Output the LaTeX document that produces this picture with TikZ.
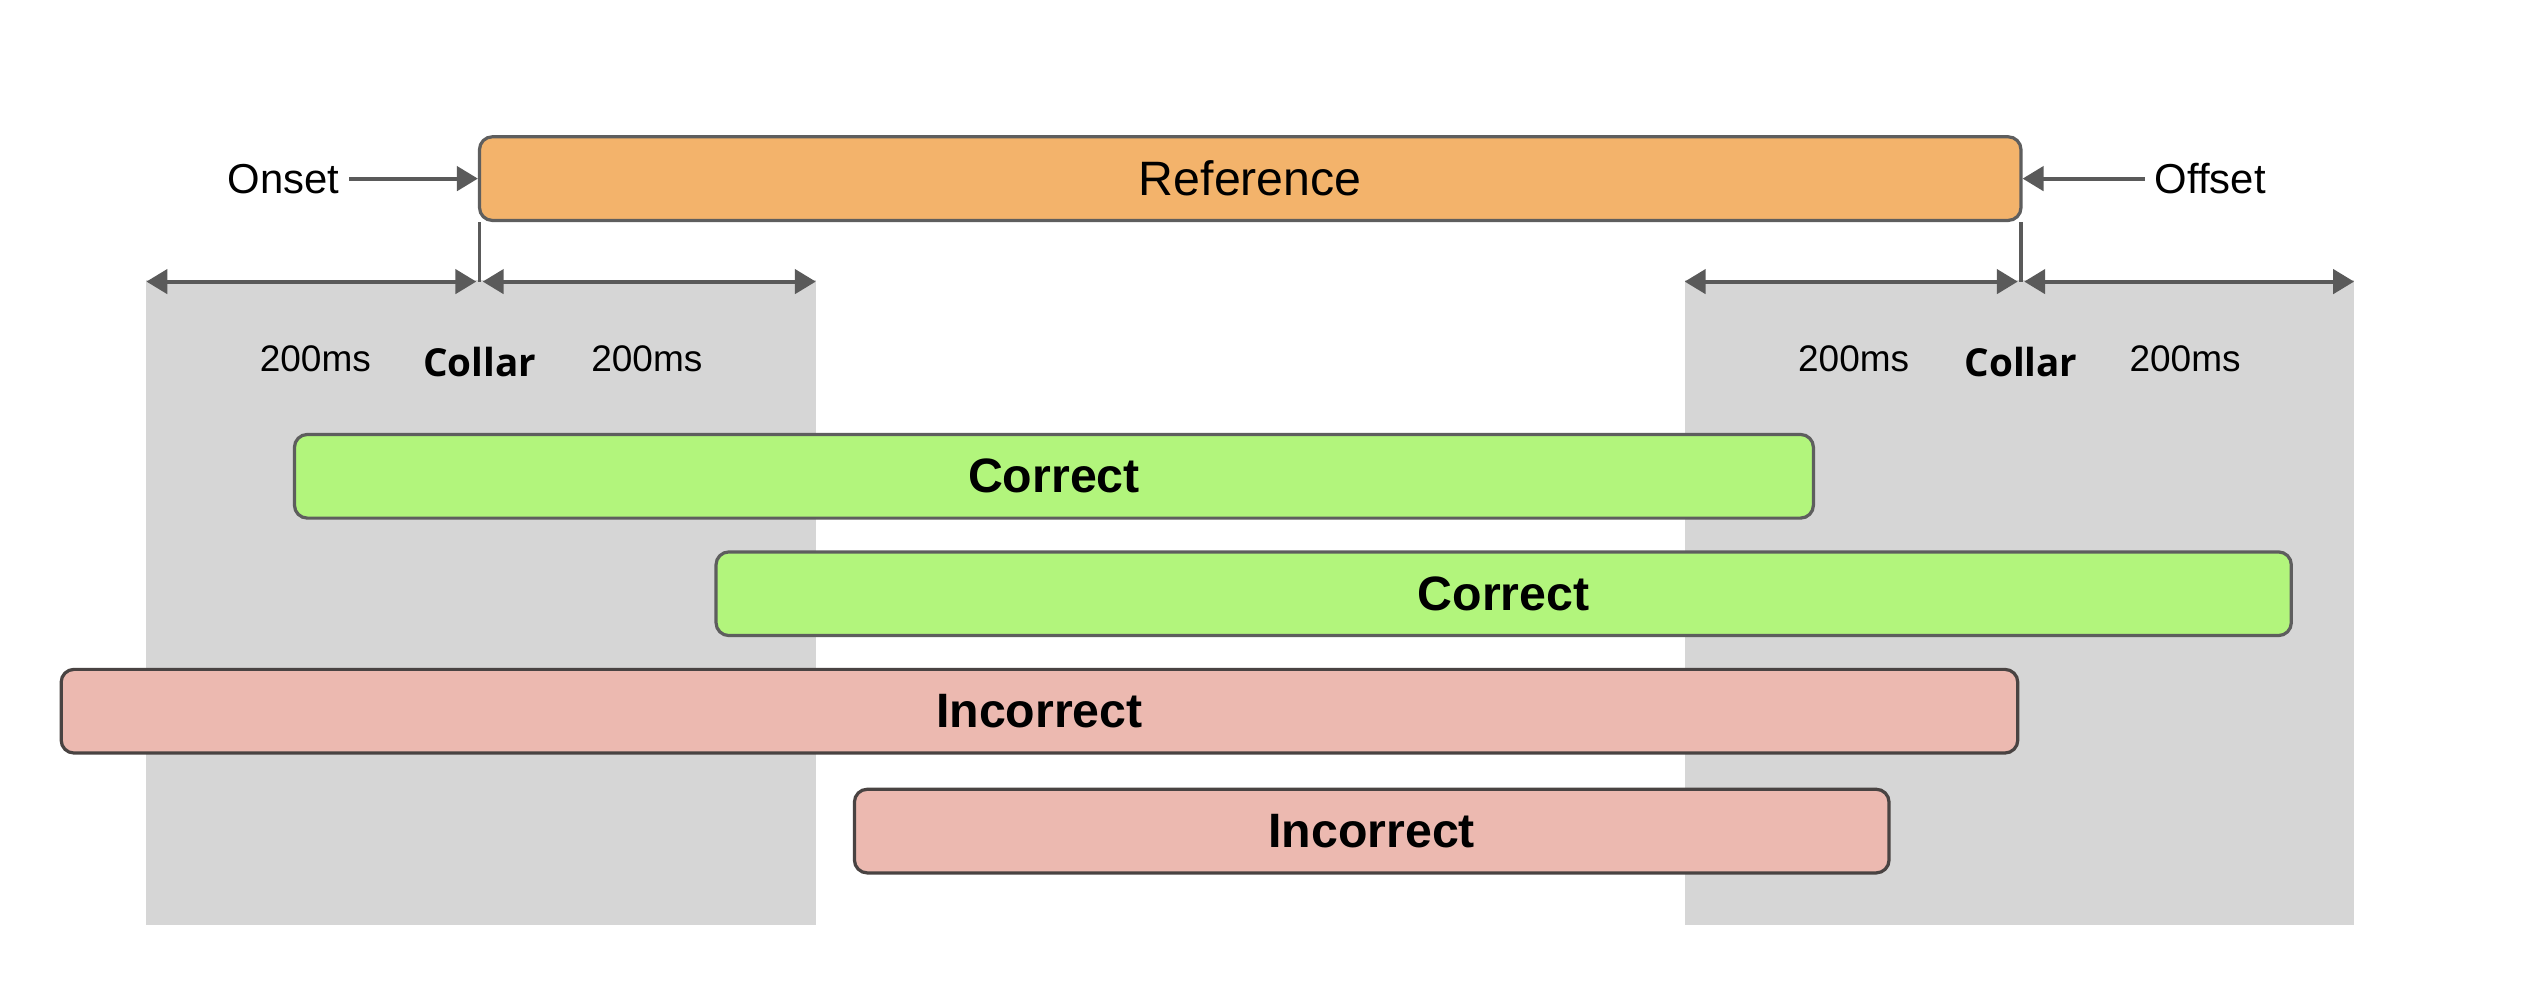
\documentclass[tikz,border=0pt]{standalone}
\usepackage{fontspec}
\setmainfont{Liberation Sans}
\newfontfamily\collarfont{Open Sans}
\usetikzlibrary{arrows.meta}
\definecolor{refc}{HTML}{F3B36B}
\definecolor{goodc}{HTML}{B2F57C}
\definecolor{badc}{HTML}{ECB9B0}
\definecolor{bandc}{HTML}{D6D6D6}
\definecolor{edgec}{HTML}{5E5E5E}
\definecolor{arrc}{HTML}{5A5A5A}
\tikzset{
  bar/.style={draw=edgec, line width=2pt, rounded corners=8pt, minimum height=52pt, inner sep=0pt, font=\fontsize{30}{30}\selectfont\bfseries},
  arr/.style={draw=arrc, line width=2.5pt, -{Triangle[length=13pt,width=15pt]}},
  darr/.style={draw=arrc, line width=2.5pt, {Triangle[length=13pt,width=15pt]}-{Triangle[length=13pt,width=15pt]}},
  vline/.style={draw=arrc, line width=2pt},
  lbl/.style={inner sep=6pt, font=\fontsize{26}{26}\selectfont},
  ms/.style={inner sep=0pt, font=\fontsize{23}{23}\selectfont},
  collar/.style={inner sep=0pt, font=\fontsize{24}{24}\selectfont\collarfont\bfseries}
}
\begin{document}
\begin{tikzpicture}[x=1pt,y=-1pt]
\useasboundingbox (0,0) rectangle (1568,621.5);
% collar bands
\fill[bandc] (91,174) rectangle (507,575);
\fill[bandc] (1047,174) rectangle (1463,575);
% reference
\node[bar, fill=refc, minimum width=958pt, font=\fontsize{30}{30}\selectfont] (ref) at (777,111) {Reference};
\node[lbl, anchor=east] (onset) at (217,111) {Onset};
\node[lbl, anchor=west] (offset) at (1333,111) {Offset};
\draw[arr] (onset.east) -- (onset.east -| ref.west);
\draw[arr] (offset.west) -- (offset.west -| ref.east);
% collar markers
\coordinate (lA) at (91,175);
\coordinate (lC) at (298,175);
\coordinate (lB) at (507,175);
\coordinate (rA) at (1047,175);
\coordinate (rC) at (1256,175);
\coordinate (rB) at (1463,175);
\draw[vline] (lC |- ref.south) -- (lC);
\draw[vline] (rC |- ref.south) -- (rC);
\draw[darr] (lA) -- ([xshift=-2pt]lC);
\draw[darr] ([xshift=2pt]lC) -- (lB);
\draw[darr] (rA) -- ([xshift=-2pt]rC);
\draw[darr] ([xshift=2pt]rC) -- (rB);
\node[ms] (ms1) at (196,223) {200ms};
\node[collar] (col1) at (298,225) {Collar};
\node[ms] (ms2) at (402,223) {200ms};
\node[ms] (ms3) at (1152,223) {200ms};
\node[collar] (col2) at (1256,225) {Collar};
\node[ms] (ms4) at (1358,223) {200ms};
% system outputs
\node[bar, fill=goodc, minimum width=944pt] (c1) at (655,296) {Correct};
\node[bar, fill=goodc, minimum width=979pt] (c2) at (934.5,369) {Correct};
\node[bar, fill=badc, minimum width=1216pt, draw=edgec!80!badc!60!black] (i1) at (646,442) {Incorrect};
\node[bar, fill=badc, minimum width=643pt, draw=edgec!80!badc!60!black] (i2) at (852.5,516.5) {Incorrect};
\end{tikzpicture}
\end{document}
